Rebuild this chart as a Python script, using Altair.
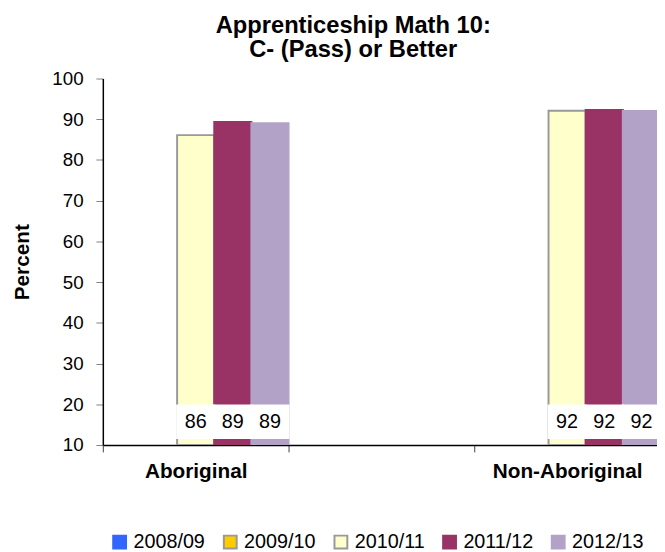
import altair as alt
import pandas as pd

categories = ["Aboriginal", "Non-Aboriginal"]
series = ["2008/09", "2009/10", "2010/11", "2011/12", "2012/13"]
fill_colors = ["#3366FF", "#FFCC00", "#FFFFCC", "#993366", "#B3A2C7"]
stroke_colors = ["#3366FF", "#999999", "#999999", "#993366", "#B3A2C7"]

# values per category for each series (None = no data)
aboriginal = [None, None, 86.1, 89.3, 89.0]
non_aboriginal = [None, None, 92.1, 92.3, 92.0]

rows = []
for cat, vals in zip(categories, [aboriginal, non_aboriginal]):
    for s, v in zip(series, vals):
        if v is not None:
            rows.append({"category": cat, "series": s, "value": v})
df = pd.DataFrame(rows)

FONT = "Liberation Sans, Arial, sans-serif"
x_domain = [categories[0], " ", categories[1]]
x_scale = alt.Scale(domain=x_domain, range=[0, 564], paddingInner=0, paddingOuter=0)

x_enc = alt.X(
    "category:N",
    scale=x_scale,
    axis=alt.Axis(
        title=None, labelAngle=0, labelFontSize=21, labelFontWeight="bold",
        labelColor="black", labelFont=FONT, tickBand="extent", tickSize=7,
        tickColor="#404040", domainColor="black", domainWidth=1.5, labelPadding=9,
    ),
)
xoff = alt.XOffset("series:N", scale=alt.Scale(domain=series, paddingInner=0, paddingOuter=0))
y_scale = alt.Scale(domain=[10, 100], nice=False, zero=False)

legend_props = dict(
    title=None, orient="none", legendX=7, legendY=459,
    direction="horizontal", columns=5, symbolType="square",
    symbolSize=169, symbolStrokeWidth=2, labelFontSize=20,
    labelFont=FONT, labelColor="black", columnPadding=14, labelOffset=4,
)

base = alt.Chart(df)

bars = base.mark_bar(strokeWidth=2, clip=True).encode(
    x=x_enc,
    xOffset=xoff,
    y=alt.Y(
        "value:Q",
        scale=y_scale,
        axis=alt.Axis(
            values=list(range(10, 101, 10)), grid=False, tickColor="#808080",
            tickSize=7, labelFontSize=19, labelColor="black", labelFont=FONT,
            labelPadding=13, title="Percent", titleFontSize=21,
            titleFontWeight="bold", titleFont=FONT, titleColor="black",
            titlePadding=20, domainColor="black", domainWidth=1.5,
        ),
    ),
    y2=alt.datum(10),
    fill=alt.Fill(
        "series:N",
        scale=alt.Scale(domain=series, range=fill_colors),
        legend=alt.Legend(**legend_props),
    ),
    stroke=alt.Stroke(
        "series:N",
        scale=alt.Scale(domain=series, range=stroke_colors),
        legend=alt.Legend(**legend_props),
    ),
)

boxes = base.mark_bar(color="white", stroke="white", strokeWidth=2, clip=True).encode(
    x=alt.X("category:N", scale=x_scale),
    xOffset=xoff,
    y=alt.datum(19.7, scale=y_scale),
    y2=alt.datum(11.7),
)

labels = base.mark_text(fontSize=20, font=FONT, color="black", baseline="middle", clip=True).encode(
    x=alt.X("category:N", scale=x_scale),
    xOffset=xoff,
    y=alt.datum(15.75, scale=y_scale),
    text=alt.Text("value:Q", format=".0f"),
)

chart = (
    alt.layer(bars, boxes, labels)
    .properties(
        width=561,
        height=371,
        title=alt.TitleParams(
            text=["Apprenticeship Math 10:", "C- (Pass) or Better"],
            fontSize=24, fontWeight="bold", font=FONT, color="black",
            anchor="middle", dx=-27, lineHeight=24, offset=8,
        ),
        autosize=alt.AutoSizeParams(type="none"),
        padding={"left": 96, "top": 68, "right": 0, "bottom": 110},
    )
    .configure_view(stroke=None)
)

chart.save("out.html", embed_options={"renderer": "svg", "actions": False})
